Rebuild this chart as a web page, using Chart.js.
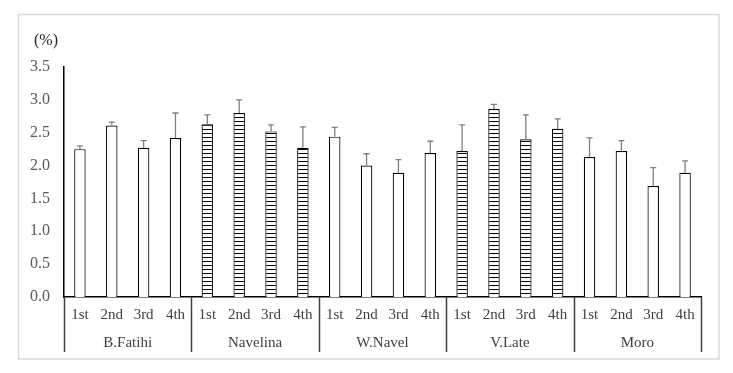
<!DOCTYPE html>
<html>
<head>
<meta charset="utf-8">
<script src="https://cdn.jsdelivr.net/npm/chart.js@4"></script>
<style>
	body { margin: 0; background: #fff; }
</style>
</head>
<body>
<canvas id="moisture-canvas" width="733" height="373"></canvas>
<script>
// cultivars and harvest times
const cultivars = ["B.Fatihi", "Navelina", "W.Navel", "V.Late", "Moro"];
const harvests = ["1st", "2nd", "3rd", "4th"];

// mean values (%) per cultivar, 1st..4th
const bFatihi = [2.25, 2.61, 2.27, 2.42];
const navelina = [2.63, 2.80, 2.52, 2.27];
const wNavel = [2.44, 2.00, 1.89, 2.19];
const vLate = [2.22, 2.86, 2.40, 2.56];
const moro = [2.13, 2.22, 1.69, 1.89];

// standard deviations (upper error bar)
const bFatihiSd = [0.05, 0.05, 0.11, 0.38];
const navelinaSd = [0.14, 0.20, 0.10, 0.32];
const wNavelSd = [0.14, 0.18, 0.20, 0.18];
const vLateSd = [0.40, 0.07, 0.37, 0.15];
const moroSd = [0.29, 0.16, 0.28, 0.18];

const yTicks = [0, 0.5, 1.0, 1.5, 2.0, 2.5, 3.0, 3.5];

const means = [].concat(bFatihi, navelina, wNavel, vLate, moro);
const sds = [].concat(bFatihiSd, navelinaSd, wNavelSd, vLateSd, moroSd);
const labels = [];
cultivars.forEach(c => harvests.forEach(h => labels.push(h)));

// horizontal stripe fill
const pc = document.createElement("canvas");
pc.width = 4;
pc.height = 4;
const pctx = pc.getContext("2d");
pctx.fillStyle = "#fff";
pctx.fillRect(0, 0, 4, 4);
pctx.fillStyle = "#000";
pctx.fillRect(0, 1, 4, 1);
const ctxMain = document.getElementById("moisture-canvas").getContext("2d");
const stripes = ctxMain.createPattern(pc, "repeat");

const fills = means.map((v, i) => (Math.floor(i / 4) % 2 === 1) ? stripes : "#fff");

const serif = "'Liberation Serif', 'Times New Roman', serif";

const extras = {
	id: "extras",
	beforeDraw(chart) {
		const ctx = chart.ctx;
		ctx.save();
		ctx.strokeStyle = "#d9d9d9";
		ctx.lineWidth = 1.5;
		ctx.strokeRect(18.5, 14.5, 700.5, 344.5);
		ctx.restore();
	},
	afterDatasetsDraw(chart) {
		const ctx = chart.ctx;
		const x = chart.scales.x;
		const y = chart.scales.y;
		const meta = chart.getDatasetMeta(0);
		ctx.save();
		// error bars
		ctx.strokeStyle = "#7f7f7f";
		ctx.lineWidth = 1.3;
		meta.data.forEach((bar, i) => {
			const yTop = y.getPixelForValue(means[i] + sds[i]);
			const yBar = y.getPixelForValue(means[i]);
			ctx.beginPath();
			ctx.moveTo(bar.x, yBar);
			ctx.lineTo(bar.x, yTop);
			ctx.moveTo(bar.x - 3, yTop);
			ctx.lineTo(bar.x + 3, yTop);
			ctx.stroke();
		});
		// group separators and names
		const step = (x.right - x.left) / labels.length;
		ctx.strokeStyle = "#404040";
		ctx.lineWidth = 1.5;
		for (let g = 0; g <= cultivars.length; g++) {
			const px = Math.round(x.left + g * 4 * step) + 0.5;
			ctx.beginPath();
			ctx.moveTo(px, y.bottom);
			ctx.lineTo(px, 352);
			ctx.stroke();
		}
		ctx.fillStyle = "#404040";
		ctx.font = "15px " + serif;
		ctx.textAlign = "center";
		ctx.textBaseline = "middle";
		cultivars.forEach((c, g) => {
			ctx.fillText(c, x.left + (g * 4 + 2) * step, 343);
		});
		// unit label
		ctx.fillStyle = "#262626";
		ctx.font = "16px " + serif;
		ctx.fillText("(%)", 46, 41);
		ctx.restore();
	}
};

new Chart("moisture-canvas", {
	type: "bar",
	data: {
		labels: labels,
		datasets: [
			{
				data: means,
				backgroundColor: fills,
				borderColor: "#000",
				borderWidth: 1.2,
				barPercentage: 0.36,
				categoryPercentage: 1
			}
		]
	},
	options: {
		responsive: false,
		animation: false,
		layout: {
			padding: { top: 67, right: 32, left: 0, bottom: 0 }
		},
		scales: {
			x: {
				grid: { display: false, drawTicks: false },
				border: { display: true, color: "#000", width: 1.5 },
				ticks: {
					color: "#404040",
					font: { family: serif, size: 15 },
					padding: 9,
					maxRotation: 0,
					autoSkip: false
				},
				afterFit: scale => { scale.height = 76; }
			},
			y: {
				min: 0,
				max: 3.5,
				grid: { display: false, drawTicks: false },
				border: { display: true, color: "#000", width: 1.5 },
				afterBuildTicks: scale => {
					scale.ticks = yTicks.map(v => ({ value: v }));
				},
				ticks: {
					color: "#595959",
					font: { family: serif, size: 16 },
					padding: 14,
					callback: value => value.toFixed(1)
				},
				afterFit: scale => { scale.width = 64; }
			}
		},
		plugins: {
			tooltip: { enabled: false },
			legend: { display: false }
		}
	},
	plugins: [extras]
});
</script>
</body>
</html>
